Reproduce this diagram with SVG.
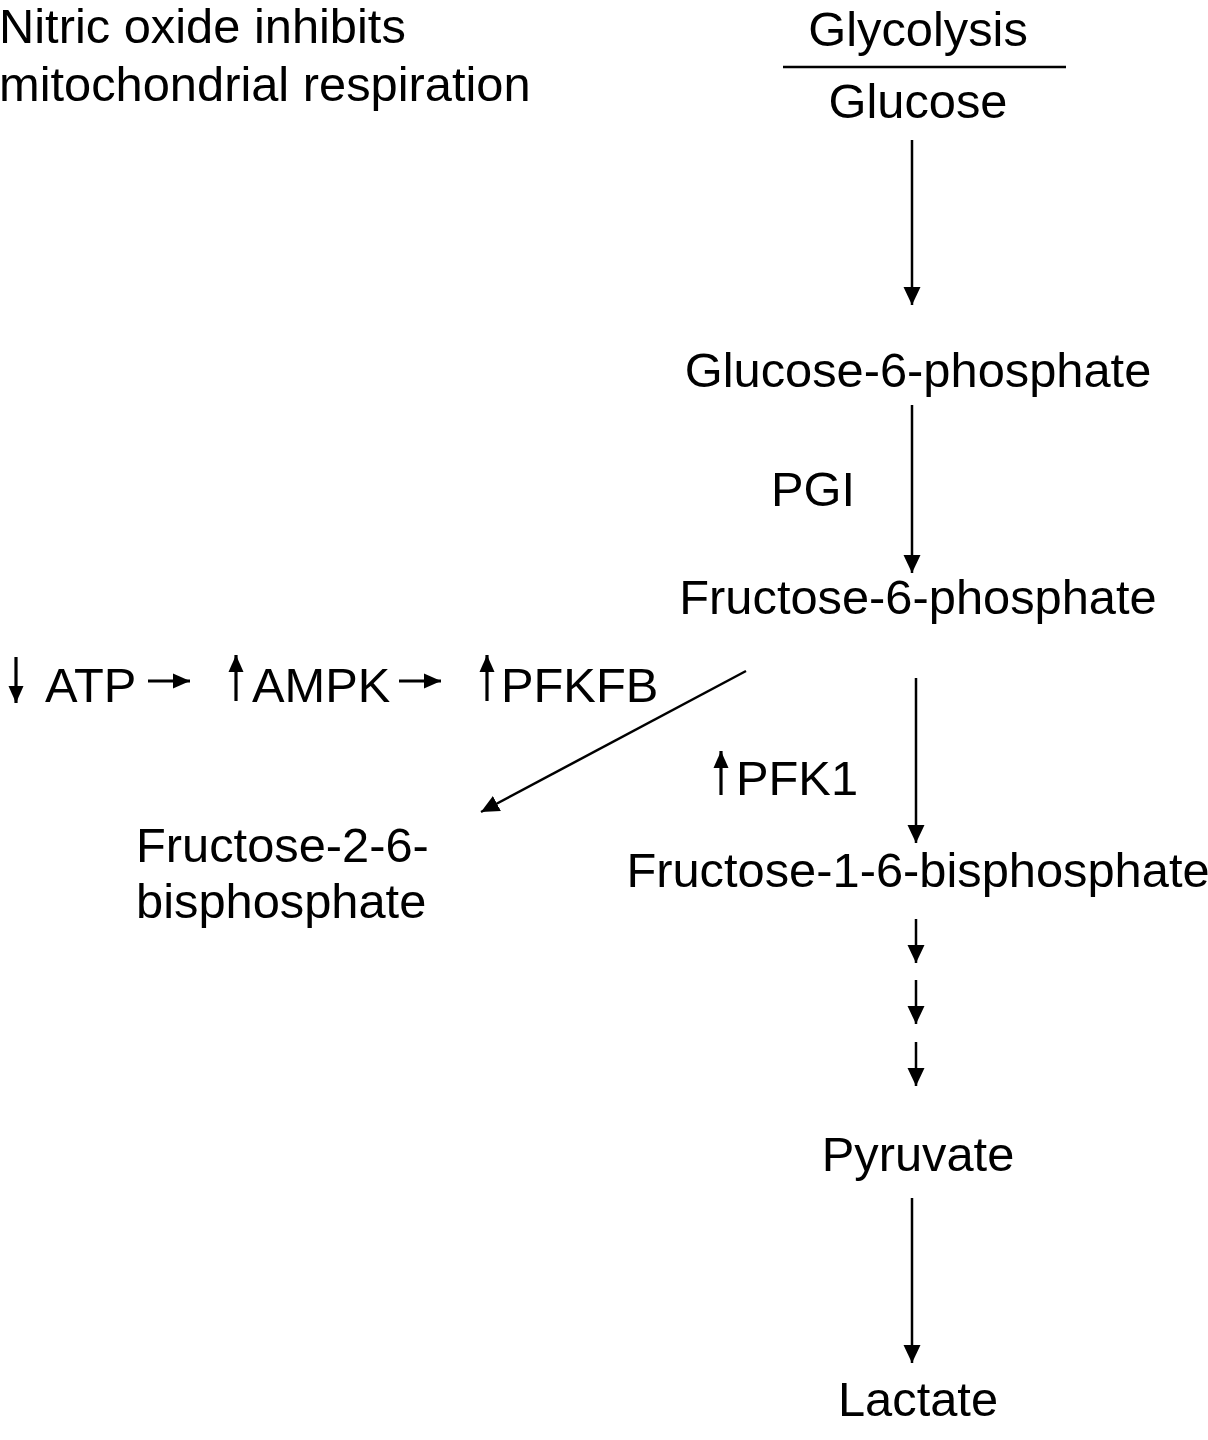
<svg xmlns="http://www.w3.org/2000/svg" width="1208" height="1440" viewBox="0 0 1208 1440">
<style>
text{font-family:"Liberation Sans",Arial,Helvetica,sans-serif;font-size:48.8px;fill:#000}
.c{text-anchor:middle}
.ln{stroke:#000;stroke-width:2.5;fill:none}
.sm{stroke:#000;stroke-width:3.2;fill:none}
</style>
<defs>
<marker id="ah" markerUnits="userSpaceOnUse" markerWidth="20" markerHeight="20" viewBox="0 0 20 20" refX="18" refY="10" orient="auto">
<path d="M0,1.5 L18,10 L0,18.5 Z" fill="#000"/>
</marker>
<marker id="ahs" markerUnits="userSpaceOnUse" markerWidth="18" markerHeight="18" viewBox="0 0 18 18" refX="17" refY="9" orient="auto">
<path d="M0,1.5 L17,9 L0,16.5 Z" fill="#000"/>
</marker>
</defs>
<rect width="1208" height="1440" fill="#fff"/>
<g id="title"><text x="-1" y="43">Nitric oxide inhibits</text><text x="-1" y="101">mitochondrial respiration</text></g>
<g id="glycolysis"><text class="c" x="918" y="46">Glycolysis</text><line class="ln" x1="783" y1="67" x2="1066" y2="67"/></g>
<g id="glucose"><text class="c" x="918" y="118">Glucose</text></g>
<g id="g6p"><text class="c" x="918" y="387">Glucose-6-phosphate</text></g>
<g id="pgi"><text x="771" y="506">PGI</text></g>
<g id="f6p"><text class="c" x="918" y="614">Fructose-6-phosphate</text></g>
<g id="signal">
<text x="45" y="702">ATP</text>
<text x="252" y="702">AMPK</text>
<text x="501" y="702">PFKFB</text>
</g>
<g id="pfk1"><text x="736" y="795">PFK1</text></g>
<g id="f26bp"><text x="136" y="862">Fructose-2-6-</text><text x="136" y="918">bisphosphate</text></g>
<g id="f16bp"><text class="c" x="918" y="887">Fructose-1-6-bisphosphate</text></g>
<g id="pyruvate"><text class="c" x="918" y="1171">Pyruvate</text></g>
<g id="lactate"><text class="c" x="918" y="1416">Lactate</text></g>
<g id="connectors">
<line class="ln" x1="912" y1="140" x2="912" y2="305" marker-end="url(#ah)"/>
<line class="ln" x1="912" y1="405" x2="912" y2="573" marker-end="url(#ah)"/>
<line class="ln" x1="916" y1="678" x2="916" y2="843" marker-end="url(#ah)"/>
<line class="ln" x1="916" y1="919" x2="916" y2="963" marker-end="url(#ah)"/>
<line class="ln" x1="916" y1="980" x2="916" y2="1024" marker-end="url(#ah)"/>
<line class="ln" x1="916" y1="1042" x2="916" y2="1086" marker-end="url(#ah)"/>
<line class="ln" x1="912" y1="1198" x2="912" y2="1363" marker-end="url(#ah)"/>
<line class="ln" x1="746" y1="671" x2="481" y2="812" marker-end="url(#ah)"/>
</g>
<g id="inline-arrows">
<line class="sm" x1="16" y1="657" x2="16" y2="703" marker-end="url(#ahs)"/>
<line class="sm" x1="148" y1="681" x2="190" y2="681" marker-end="url(#ahs)"/>
<line class="sm" x1="236" y1="701" x2="236" y2="655" marker-end="url(#ahs)"/>
<line class="sm" x1="399" y1="681" x2="441" y2="681" marker-end="url(#ahs)"/>
<line class="sm" x1="487" y1="701" x2="487" y2="655" marker-end="url(#ahs)"/>
<line class="sm" x1="721" y1="795" x2="721" y2="751" marker-end="url(#ahs)"/>
</g>
</svg>
